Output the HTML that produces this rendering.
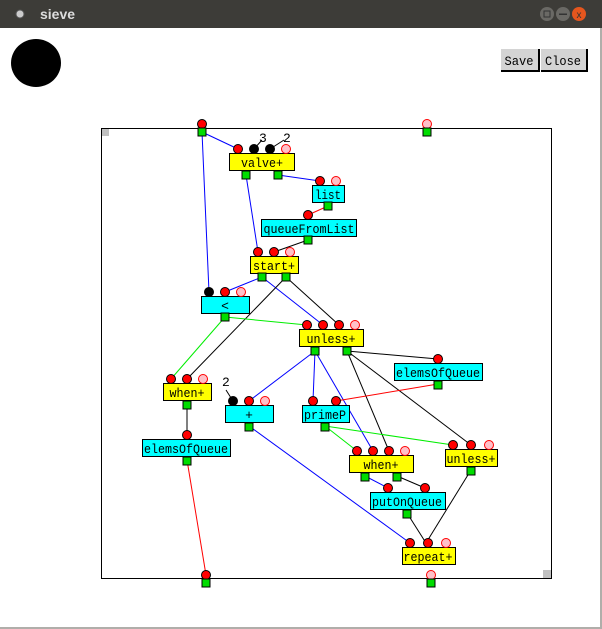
<!DOCTYPE html>
<html><head><meta charset="utf-8"><style>
html,body{margin:0;padding:0;width:602px;height:629px;overflow:hidden;background:#fff}
svg{display:block}
.t{font-family:"Liberation Mono",monospace;font-size:13px;text-anchor:middle}
</style></head><body>
<svg width="602" height="629" xmlns="http://www.w3.org/2000/svg">
<defs>
<g id="r"><circle r="4.5" fill="#f00" stroke="#000" stroke-width="1"/></g>
<g id="b"><circle r="4.5" fill="#000" stroke="#000" stroke-width="1"/></g>
<g id="p"><circle r="4.5" fill="#ffc0c8" stroke="#f00" stroke-width="1"/></g>
<g id="s"><rect x="-4" y="-4" width="8" height="8" fill="#0d0" stroke="#000" stroke-width="1"/></g>
</defs>
<rect x="0" y="0" width="602" height="629" fill="#fff"/>
<rect x="0" y="0" width="602" height="28" fill="#3d3c38"/>
<rect x="600" y="28" width="2" height="601" fill="#b0aeaa"/>
<rect x="0" y="627" width="602" height="2" fill="#b0aeaa"/>
<circle cx="20" cy="14" r="4" fill="#ccc" stroke="#555"/>
<text x="40" y="19" font-family="Liberation Sans,sans-serif" font-weight="bold" font-size="14" fill="#ddd">sieve</text>
<circle cx="547" cy="14" r="7" fill="#6a6965"/><rect x="544" y="11" width="6" height="6" fill="none" stroke="#333"/>
<circle cx="563" cy="14" r="7" fill="#6a6965"/><rect x="559" y="13.5" width="8" height="1.5" fill="#333"/>
<circle cx="579" cy="14" r="7" fill="#e5561e"/><text x="579" y="18" font-size="10" text-anchor="middle" fill="#333" font-family="Liberation Sans,sans-serif">x</text>
<ellipse cx="36" cy="63" rx="25" ry="24" fill="#000"/>
<rect x="501" y="49" width="37" height="22" fill="#d4d4d4"/><path d="M501 71H539V49" stroke="#000" stroke-width="2" fill="none"/>
<text x="519" y="65" font-family="Liberation Mono,monospace" font-size="13" text-anchor="middle" textLength="29" lengthAdjust="spacingAndGlyphs">Save</text>
<rect x="541" y="49" width="45" height="22" fill="#d4d4d4"/><path d="M541 71H587V49" stroke="#000" stroke-width="2" fill="none"/>
<text x="563" y="65" font-family="Liberation Mono,monospace" font-size="13" text-anchor="middle" textLength="36" lengthAdjust="spacingAndGlyphs">Close</text>

<rect x="101.5" y="128.5" width="450" height="450" fill="none" stroke="#000"/>
<rect x="102" y="129" width="7" height="7" fill="#c0c0c0"/>
<rect x="543" y="570" width="8" height="8" fill="#c0c0c0"/>

<g stroke-width="1" fill="none">
<line x1="202" y1="132" x2="238" y2="149" stroke="#00f"/>
<line x1="202" y1="132" x2="209" y2="292" stroke="#00f"/>
<line x1="246" y1="175" x2="258" y2="252" stroke="#00f"/>
<line x1="278" y1="175" x2="320" y2="181" stroke="#00f"/>
<line x1="328" y1="206" x2="308" y2="215" stroke="#f00"/>
<line x1="308" y1="240" x2="274" y2="252" stroke="#000"/>
<line x1="262" y1="277" x2="225" y2="292" stroke="#00f"/>
<line x1="262" y1="277" x2="323" y2="325" stroke="#00f"/>
<line x1="286" y1="277" x2="339" y2="325" stroke="#000"/>
<line x1="286" y1="277" x2="187" y2="379" stroke="#000"/>
<line x1="225" y1="317" x2="307" y2="325" stroke="#0e0"/>
<line x1="225" y1="317" x2="171" y2="379" stroke="#0e0"/>
<line x1="187" y1="404" x2="187" y2="435" stroke="#000"/>
<line x1="187" y1="460" x2="206" y2="575" stroke="#f00"/>
<line x1="315" y1="351" x2="249" y2="401" stroke="#00f"/>
<line x1="315" y1="351" x2="313" y2="401" stroke="#00f"/>
<line x1="315" y1="351" x2="373" y2="451" stroke="#00f"/>
<line x1="347" y1="351" x2="438" y2="359" stroke="#000"/>
<line x1="347" y1="351" x2="389" y2="451" stroke="#000"/>
<line x1="347" y1="351" x2="471" y2="445" stroke="#000"/>
<line x1="438" y1="384" x2="336" y2="401" stroke="#f00"/>
<line x1="325" y1="426" x2="357" y2="451" stroke="#0e0"/>
<line x1="325" y1="426" x2="453" y2="445" stroke="#0e0"/>
<line x1="249" y1="426" x2="410" y2="543" stroke="#00f"/>
<line x1="365" y1="476" x2="388" y2="488" stroke="#00f"/>
<line x1="397" y1="476" x2="425" y2="488" stroke="#000"/>
<line x1="407" y1="513" x2="426" y2="543" stroke="#000"/>
<line x1="471" y1="470" x2="426" y2="543" stroke="#000"/>
<path d="M254 149L262 140M270 149L284 140M233 401L226 390" stroke="#000"/>
</g>
<g font-family="Liberation Mono,monospace" font-size="13">
<text x="259" y="142">3</text><text x="283" y="142">2</text><text x="222" y="386">2</text>
</g>

<use href="#r" x="202" y="124"/><use href="#s" x="202" y="132"/>
<use href="#p" x="427" y="124"/><use href="#s" x="427" y="132"/>
<use href="#r" x="206" y="575"/><use href="#s" x="206" y="583"/>
<use href="#p" x="431" y="575"/><use href="#s" x="431" y="583"/>

<g stroke="#000" stroke-width="1">
<rect x="229.5" y="153.5" width="65" height="17" fill="#ff0"/>
<rect x="312.5" y="185.5" width="32" height="17" fill="#0ff"/>
<rect x="261.5" y="219.5" width="95" height="17" fill="#0ff"/>
<rect x="250.5" y="256.5" width="48" height="17" fill="#ff0"/>
<rect x="201.5" y="296.5" width="48" height="17" fill="#0ff"/>
<rect x="299.5" y="329.5" width="64" height="17" fill="#ff0"/>
<rect x="394.5" y="363.5" width="88" height="17" fill="#0ff"/>
<rect x="163.5" y="383.5" width="48" height="17" fill="#ff0"/>
<rect x="225.5" y="405.5" width="48" height="17" fill="#0ff"/>
<rect x="302.5" y="405.5" width="47" height="17" fill="#0ff"/>
<rect x="142.5" y="439.5" width="88" height="17" fill="#0ff"/>
<rect x="349.5" y="455.5" width="64" height="17" fill="#ff0"/>
<rect x="445.5" y="449.5" width="52" height="17" fill="#ff0"/>
<rect x="370.5" y="492.5" width="75" height="17" fill="#0ff"/>
<rect x="402.5" y="547.5" width="53" height="17" fill="#ff0"/>
</g>
<g class="t" lengthAdjust="spacingAndGlyphs">
<text x="262" y="167" textLength="42" lengthAdjust="spacingAndGlyphs">valve+</text>
<text x="328" y="199" textLength="26" lengthAdjust="spacingAndGlyphs">list</text>
<text x="309" y="233" textLength="91" lengthAdjust="spacingAndGlyphs">queueFromList</text>
<text x="274" y="270" textLength="42" lengthAdjust="spacingAndGlyphs">start+</text>
<text x="225" y="310">&lt;</text>
<text x="331" y="343" textLength="49" lengthAdjust="spacingAndGlyphs">unless+</text>
<text x="438" y="377" textLength="84" lengthAdjust="spacingAndGlyphs">elemsOfQueue</text>
<text x="187" y="397" textLength="35" lengthAdjust="spacingAndGlyphs">when+</text>
<text x="249" y="419">+</text>
<text x="325" y="419" textLength="42" lengthAdjust="spacingAndGlyphs">primeP</text>
<text x="186" y="453" textLength="84" lengthAdjust="spacingAndGlyphs">elemsOfQueue</text>
<text x="381" y="469" textLength="35" lengthAdjust="spacingAndGlyphs">when+</text>
<text x="471" y="463" textLength="49" lengthAdjust="spacingAndGlyphs">unless+</text>
<text x="407" y="506" textLength="70" lengthAdjust="spacingAndGlyphs">putOnQueue</text>
<text x="428" y="561" textLength="49" lengthAdjust="spacingAndGlyphs">repeat+</text>
</g>

<use href="#r" x="238" y="149"/><use href="#b" x="254" y="149"/><use href="#b" x="270" y="149"/><use href="#p" x="286" y="149"/>
<use href="#s" x="246" y="175"/><use href="#s" x="278" y="175"/>
<use href="#r" x="320" y="181"/><use href="#p" x="336" y="181"/><use href="#s" x="328" y="206"/>
<use href="#r" x="308" y="215"/><use href="#s" x="308" y="240"/>
<use href="#r" x="258" y="252"/><use href="#r" x="274" y="252"/><use href="#p" x="290" y="252"/>
<use href="#s" x="262" y="277"/><use href="#s" x="286" y="277"/>
<use href="#b" x="209" y="292"/><use href="#r" x="225" y="292"/><use href="#p" x="241" y="292"/><use href="#s" x="225" y="317"/>
<use href="#r" x="307" y="325"/><use href="#r" x="323" y="325"/><use href="#r" x="339" y="325"/><use href="#p" x="355" y="325"/>
<use href="#s" x="315" y="351"/><use href="#s" x="347" y="351"/>
<use href="#r" x="438" y="359"/><use href="#s" x="438" y="385"/>
<use href="#r" x="171" y="379"/><use href="#r" x="187" y="379"/><use href="#p" x="203" y="379"/><use href="#s" x="187" y="405"/>
<use href="#b" x="233" y="401"/><use href="#r" x="249" y="401"/><use href="#p" x="265" y="401"/><use href="#s" x="249" y="427"/>
<use href="#r" x="313" y="401"/><use href="#r" x="336" y="401"/><use href="#s" x="325" y="427"/>
<use href="#r" x="187" y="435"/><use href="#s" x="187" y="461"/>
<use href="#r" x="357" y="451"/><use href="#r" x="373" y="451"/><use href="#r" x="389" y="451"/><use href="#p" x="405" y="451"/>
<use href="#s" x="365" y="477"/><use href="#s" x="397" y="477"/>
<use href="#r" x="453" y="445"/><use href="#r" x="471" y="445"/><use href="#p" x="489" y="445"/><use href="#s" x="471" y="471"/>
<use href="#r" x="388" y="488"/><use href="#r" x="425" y="488"/><use href="#s" x="407" y="514"/>
<use href="#r" x="410" y="543"/><use href="#r" x="428" y="543"/><use href="#p" x="446" y="543"/>
</svg>
</body></html>
